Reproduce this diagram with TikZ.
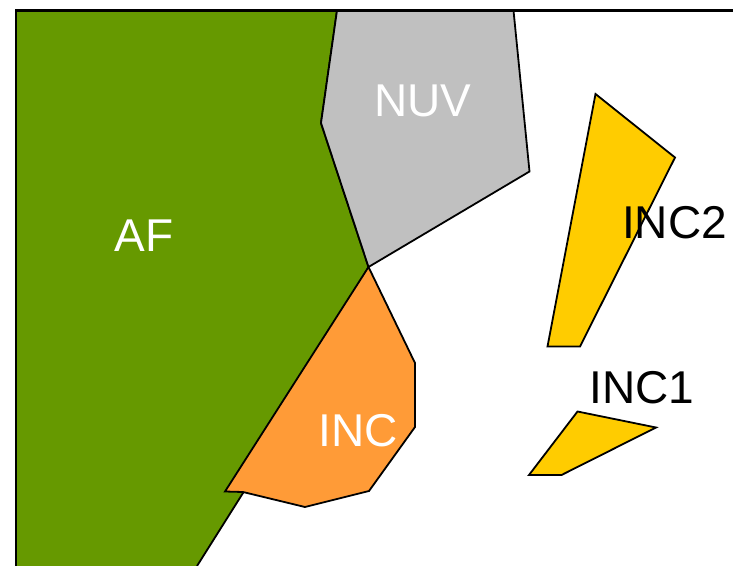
\documentclass[tikz,border=0pt]{standalone}
\usepackage{fontspec}
\setmainfont{Liberation Sans}
\definecolor{afgreen}{HTML}{669900}
\definecolor{nuvgray}{HTML}{C0C0C0}
\definecolor{incorange}{HTML}{FF9B37}
\definecolor{incyellow}{HTML}{FFCC00}
\tikzset{
  region/.style={draw=black, line width=1.8pt, line join=miter},
  lbl/.style={inner sep=0pt, anchor=base, font=\fontsize{46}{55}\selectfont},
  frameline/.style={draw=black, line width=2.8pt}
}
\begin{document}
\begin{tikzpicture}[x=1pt,y=-1pt]
\useasboundingbox (0,0) rectangle (733,565);
\clip (0,0) rectangle (733,565);
% AF region
\fill[afgreen] (16,10.5) -- (337,10.5) -- (321,123) -- (368.5,267) -- (243,493) -- (197,566) -- (16,566) -- cycle;
\draw[region] (337,10.5) -- (321,123) -- (368.5,267) -- (243,493) -- (197,566);
% NUV region
\draw[region, fill=nuvgray] (337,10.5) -- (513.5,10.5) -- (529.5,171.5) -- (368.5,267) -- (321,123) -- cycle;
% INC region
\draw[region, fill=incorange] (368.5,267) -- (415,363) -- (415,427) -- (369,491) -- (305,507) -- (243,492) -- (225,491.5) -- cycle;
% INC2 region
\draw[region, fill=incyellow] (595.5,94) -- (675,157.5) -- (580,346.5) -- (547.5,346.5) -- cycle;
% INC1 region
\draw[region, fill=incyellow] (577.5,411.5) -- (656,427.5) -- (561.5,475) -- (529,475) -- cycle;
% frame
\draw[frameline] (734,10.5) -- (16,10.5) -- (16,566);
% labels
\node[lbl, text=white] (af) at (144,251) {AF};
\node[lbl, text=white] (nuv) at (423,116) {NUV};
\node[lbl, text=white] (inc) at (358,446) {INC};
\node[lbl, text=black] (inc2) at (674.5,238) {INC2};
\node[lbl, text=black] (inc1) at (642,403) {INC1};
\end{tikzpicture}
\end{document}
